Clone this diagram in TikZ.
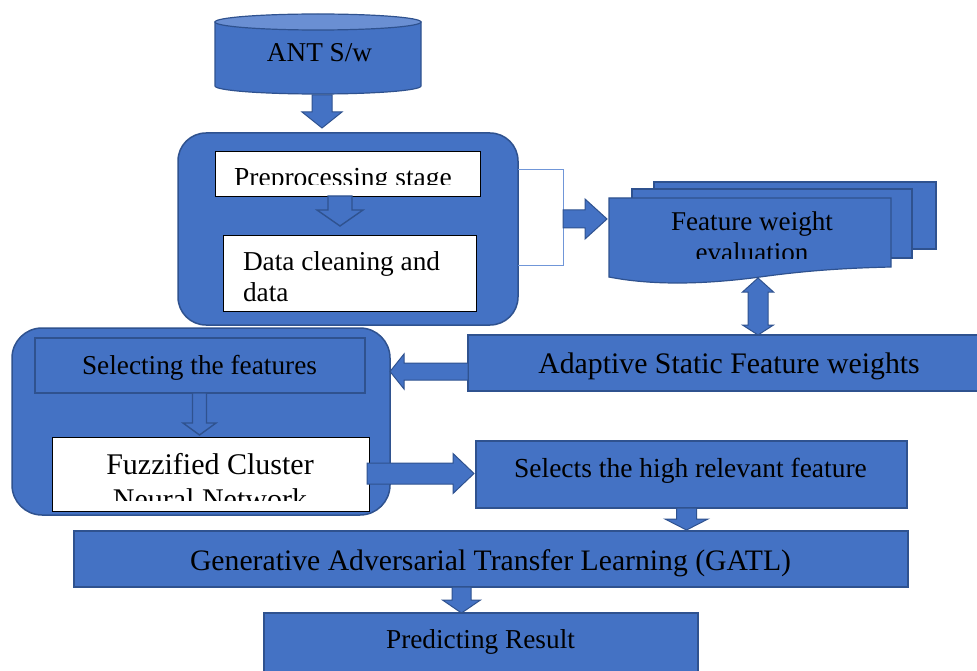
\documentclass[tikz,border=0pt]{standalone}
\usepackage{fontspec}
\setmainfont{Liberation Serif}
\usetikzlibrary{calc}
\definecolor{obl}{HTML}{4472C4}
\definecolor{odk}{HTML}{2F528F}
\definecolor{otop}{HTML}{6A8FD3}
\definecolor{brk}{HTML}{7096D8}
\newcommand\fs[1]{\fontsize{#1}{#1}\selectfont}
% block arrow: style, start point, direction angle, length, shaft half-width, head half-width, head length
\newcommand\blockarr[7]{%
  \begin{scope}[shift={(#2)}, rotate=#3]
    \draw[#1] (0,-#5) -- ({#4-#7},-#5) -- ({#4-#7},-#6) -- (#4,0) -- ({#4-#7},#6) -- ({#4-#7},#5) -- (0,#5) -- cycle;
  \end{scope}}
\begin{document}
\begin{tikzpicture}[x=1pt,y=-1pt,
  box/.style={rectangle, inner sep=0pt, outer sep=0pt},
  blk/.style={box, fill=obl, draw=odk, line width=1.2pt},
  whitebox/.style={box, fill=white, draw=black, line width=0.8pt},
  grp/.style={box, fill=obl, draw=odk, line width=1.5pt, rounded corners=28pt},
  arr/.style={fill=obl, draw=odk, line width=1pt},
  hollow/.style={fill=obl, draw=odk, line width=1.4pt},
  lbl/.style={anchor=base, inner sep=0pt, outer sep=0pt, text=black},
  lbll/.style={anchor=base west, inner sep=0pt, outer sep=0pt, text=black}]

\path[fill=white, use as bounding box] (0,0) rectangle (977,671);

% ---- data source cylinder
\path[fill=obl, draw=odk, line width=1.2pt]
  (215,22) -- (215,86) arc[start angle=180, end angle=360, x radius=103pt, y radius=8pt]
  -- (421,22) -- cycle;
\path[fill=otop, draw=odk, line width=1.2pt] (318,22) ellipse [x radius=103pt, y radius=8pt];
\node[lbl] (ant) at (319.5,62) {\fs{27.2}ANT S/w};
\coordinate (antb) at (322,95);

% ---- preprocessing group
\node[grp, minimum width=340pt, minimum height=192pt] (grp1) at (348,229) {};
\node[whitebox, minimum width=265pt, minimum height=45pt] (pre) at (347.5,173.5) {};
\begin{scope}
  \clip (216,152) rectangle (479,185);
  \node[lbl] (pret) at (343,187) {\fs{27.5}Preprocessing stage};
\end{scope}
\node[whitebox, minimum width=253pt, minimum height=76pt] (dc) at (349.5,273) {};
\node[lbll] (dct1) at (243,270) {\fs{27.3}Data cleaning and};
\node[lbll] (dct2) at (243,301) {\fs{27.3}data};

% bracket joining the group to the next stage
\draw[brk, line width=1pt] (grp1.east |- 0,170) -- (563,170) coordinate (brtop) -- (563,265) -- (grp1.east |- 0,265);
\coordinate (brmid) at (563,219);

% ---- feature weight evaluation (multi-document)
\path[fill=obl, draw=odk, line width=1.2pt] (654,182) rectangle (936,249);
\path[fill=obl, draw=odk, line width=1.2pt] (632,189) rectangle (912,258);
\path[fill=obl, draw=odk, line width=1.2pt]
  (609,198) -- (891,198) -- (891,267)
  .. controls (850,268) and (810,270) .. (760,277)
  .. controls (700,285) and (650,285) .. (609,277) -- cycle;
\coordinate (fwe) at (758,278);
\node[lbl] (fwet1) at (752,230) {\fs{27.1}Feature weight};
\begin{scope}
  \clip (610,199) rectangle (890,258);
  \node[lbl] (fwet2) at (752,261) {\fs{27.1}evaluation};
\end{scope}

% ---- adaptive static feature weights
\node[blk, minimum width=522pt, minimum height=56pt] (ada) at (729,363) {};
\node[lbl] (adat) at (729,373) {\fs{29.8}Adaptive Static Feature weights};

% ---- feature selection group
\node[grp, minimum width=378pt, minimum height=187pt, rounded corners=30pt] (grp2) at (201,421.5) {};
\node[blk, line width=1.8pt, minimum width=330pt, minimum height=55pt] (sel) at (200,365.5) {};
\node[lbl] (selt) at (199.5,374) {\fs{27.3}Selecting the features};
\node[whitebox, minimum width=317pt, minimum height=74pt] (fz) at (210.5,474) {};
\node[lbl] (fzt1) at (210,474) {\fs{30}Fuzzified Cluster};
\begin{scope}
  \clip (53,438) rectangle (368,500);
  \node[lbl] (fzt2) at (210,509) {\fs{30}Neural Network};
\end{scope}

% ---- relevant feature selection
\node[blk, minimum width=431pt, minimum height=67pt] (hrf) at (691.5,474.5) {};
\node[lbl] (hrft) at (690.5,477) {\fs{27.5}Selects the high relevant feature};

% ---- GATL
\node[blk, minimum width=834pt, minimum height=56pt] (gatl) at (491,559) {};
\node[lbl] (gatlt) at (490.5,570) {\fs{29.7}Generative Adversarial Transfer Learning (GATL)};

% ---- result
\node[blk, minimum width=434pt, minimum height=80pt] (pred) at (481,653) {};
\node[lbl] (predt) at (480.5,648) {\fs{27.3}Predicting Result};

% ---- block arrows between stages
\blockarr{arr}{antb}{-90}{33}{10}{20}{16}
\blockarr{hollow}{340,0 |- pre.south}{-90}{30}{12}{23}{16}
\blockarr{arr}{brmid}{0}{44}{9}{20}{22}
\blockarr{arr}{ada.west |- 0,371.5}{180}{78}{8.5}{17.5}{14}
\blockarr{hollow}{199.5,0 |- sel.south}{-90}{42}{7}{16.5}{12}
\blockarr{arr}{367,473.5}{0}{107}{10.5}{20}{21}
\blockarr{arr}{686.5,0 |- hrf.south}{-90}{22}{10}{21.5}{11}
\blockarr{arr}{461.5,0 |- gatl.south}{-90}{26}{9.5}{19}{13}

% two-way arrow between evaluation and adaptive weights
\begin{scope}[shift={(fwe)}]
  \draw[arr] (0,0) -- (15.5,14) -- (10,14) -- (10,47) -- (15.5,47) -- (0,57)
    -- (-15.5,47) -- (-10,47) -- (-10,14) -- (-15.5,14) -- cycle;
\end{scope}
\end{tikzpicture}
\end{document}
